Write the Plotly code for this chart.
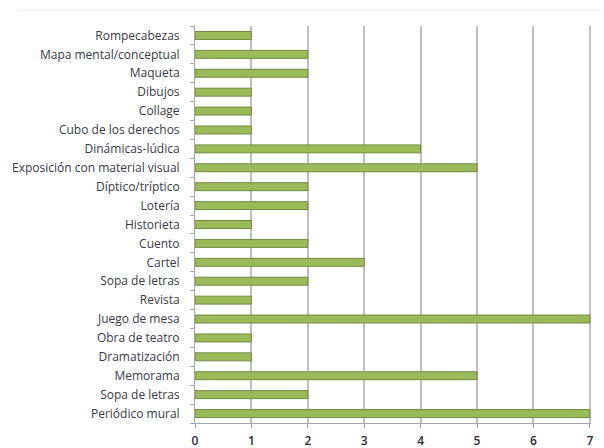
import plotly.graph_objects as go

categories = [
    "Rompecabezas", "Mapa mental/conceptual", "Maqueta", "Dibujos", "Collage",
    "Cubo de los derechos", "Dinámicas-lúdica", "Exposición con material visual",
    "Díptico/tríptico", "Lotería", "Historieta", "Cuento", "Cartel",
    "Sopa de letras", "Revista", "Juego de mesa", "Obra de teatro",
    "Dramatización", "Memorama", "Sopa de letras", "Periódico mural",
]
values = [1, 2, 2, 1, 1, 1, 4, 5, 2, 2, 1, 2, 3, 2, 1, 7, 1, 1, 5, 2, 7]
x_ticks = [0, 1, 2, 3, 4, 5, 6, 7]

positions = list(range(len(categories)))

fig = go.Figure(go.Bar(
    x=values,
    y=positions,
    orientation="h",
    width=0.42,
    marker=dict(color="#9BBB59", line=dict(color="#71893F", width=1)),
))

fig.update_layout(
    width=604, height=448,
    margin=dict(l=195, r=13, t=26, b=25),
    paper_bgcolor="white", plot_bgcolor="white",
    showlegend=False,
    font=dict(family="Open Sans", size=12, color="#3A3A48"),
    bargap=0.5,
)
fig.update_xaxes(
    range=[0, 7.02], tickvals=x_ticks, ticktext=[str(t) for t in x_ticks],
    automargin=False,
    showgrid=True, gridcolor="#BFBFBF", gridwidth=1.5,
    showline=True, linecolor="#A6A6A6", linewidth=1,
    ticks="outside", ticklen=4, tickcolor="#A6A6A6",
    ticklabelstandoff=3,
    tickfont=dict(family="Open Sans", size=12, color="#2A2A38", weight=600),
    zeroline=False,
)
fig.update_yaxes(
    range=[len(categories) - 0.5, -0.5],
    tickvals=positions, ticktext=categories,
    automargin=False,
    showline=True, linecolor="#A6A6A6", linewidth=1,
    ticks="", ticklen=0,
    ticklabelstandoff=12,
    minor=dict(tickvals=[p - 0.5 for p in positions] + [len(categories) - 0.5],
               ticks="outside", ticklen=4, tickcolor="#A6A6A6"),
    showgrid=False, zeroline=False,
    tickfont=dict(family="Open Sans", size=12, color="#3A3A48"),
)
fig.add_shape(type="line", xref="paper", yref="paper", x0=-0.45, x1=1.03,
              y0=1.04, y1=1.04, line=dict(color="#F0F0F0", width=1))

fig.write_html("out.html")
